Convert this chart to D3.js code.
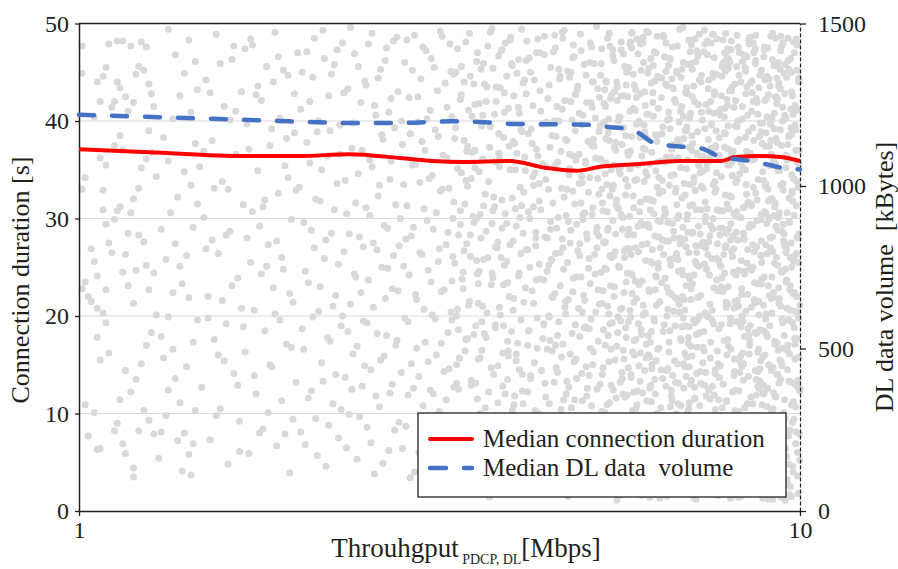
<!DOCTYPE html>
<html lang="en">
<head>
<meta charset="UTF-8">
<title>Connection duration vs throughput</title>
<script src="https://d3js.org/d3.v7.min.js"></script>
<style>
  body { margin: 0; background: #fff; }
  text { font-family: "Liberation Serif", "Times New Roman", serif; fill: #231f20; }
</style>
</head>
<body>
<div id="chart"></div>
<script>
// ---- data ----
var xTicks = [1, 10];
var yLeftTicks = [0, 10, 20, 30, 40, 50];
var yRightTicks = [0, 500, 1000, 1500];

// median connection duration [s] vs throughput [Mbps]
var medDurX = [1.00, 1.25, 1.70, 2.02, 2.37, 2.79, 3.09, 3.41, 3.96, 4.43, 4.90, 5.28, 5.99, 6.81, 7.76, 8.13, 8.80, 9.40, 10.0];
var medDurY = [37.1, 36.8, 36.4, 36.4, 36.6, 36.2, 35.9, 35.8, 35.9, 35.2, 34.9, 35.3, 35.6, 35.9, 35.9, 36.3, 36.4, 36.3, 35.9];

// median DL data volume [kBytes] vs throughput [Mbps]
var medVolX = [1.00, 1.47, 1.96, 2.37, 2.79, 3.27, 3.66, 3.96, 4.50, 5.11, 5.45, 5.68, 5.96, 6.25, 6.56, 6.93, 7.31, 7.70, 8.07, 8.53, 8.94, 9.44, 10.0];
var medVolY = [1219, 1208, 1199, 1194, 1194, 1199, 1196, 1191, 1190, 1188, 1181, 1178, 1164, 1134, 1125, 1120, 1115, 1092, 1084, 1077, 1068, 1056, 1051];

// individual connections [throughput Mbps, duration s]
var scatterA = [[1.01,47.7],[1.01,44.9],[1.02,34.2],[1.01,33.0],[1.01,22.8],[1.02,23.5],[1.03,22.0],[1.04,21.5],[1.04,26.9],[1.05,25.6],[1.06,24.1],[1.06,17.8],[1.07,15.5],[1.02,10.9],[1.03,7.7],[1.06,6.3],[1.07,6.4],[1.05,10.1],[1.06,20.8],[1.08,20.3],[1.09,19.3],[1.10,16.2],[1.09,22.7],[1.10,27.5],[1.12,29.9],[1.13,30.8],[1.14,31.2],[1.11,26.5],[1.08,30.9],[1.09,29.4],[1.07,36.2],[1.08,32.9],[1.09,35.5],[1.12,37.5],[1.14,38.5],[1.15,37.0],[1.11,41.4],[1.10,47.9],[1.13,48.2],[1.15,48.2],[1.09,45.5],[1.08,44.6],[1.07,42.0],[1.05,40.4],[1.06,44.0],[1.13,44.0],[1.14,43.4],[1.16,42.5],[1.12,42.0],[1.17,41.0],[1.19,41.9],[1.20,44.8],[1.21,45.6],[1.18,47.7],[1.22,48.1],[1.24,47.6],[1.23,45.2],[1.25,43.8],[1.26,42.8],[1.27,41.5],[1.25,39.0],[1.24,36.1],[1.26,36.8],[1.28,34.3],[1.22,35.2],[1.21,33.1],[1.19,32.0],[1.18,30.6],[1.17,28.5],[1.16,26.3],[1.15,24.5],[1.17,23.1],[1.19,21.3],[1.20,24.7],[1.21,28.3],[1.23,27.6],[1.24,25.2],[1.25,22.7],[1.27,24.4],[1.28,20.1],[1.26,18.3],[1.24,17.0],[1.22,15.1],[1.20,13.5],[1.18,12.2],[1.16,14.4],[1.14,11.4],[1.13,9.0],[1.12,8.2],[1.15,6.9],[1.16,5.9],[1.19,4.4],[1.19,3.5],[1.21,8.2],[1.23,10.3],[1.25,9.3],[1.27,7.9],[1.29,5.4],[1.30,8.1],[1.32,9.8],[1.33,12.4],[1.31,15.7],[1.30,17.9],[1.33,19.9],[1.35,16.6],[1.36,13.6],[1.38,11.1],[1.40,8.0],[1.42,5.8],[1.37,7.2],[1.39,4.1],[1.43,3.7],[1.44,6.9],[1.45,10.3],[1.41,14.8],[1.44,17.3],[1.46,19.6],[1.42,21.9],[1.39,23.3],[1.35,22.4],[1.32,25.8],[1.30,28.9],[1.34,30.6],[1.36,27.4],[1.38,25.1],[1.41,26.2],[1.44,29.1],[1.46,31.5],[1.43,33.4],[1.40,34.8],[1.37,32.2],[1.33,35.9],[1.31,38.3],[1.35,40.2],[1.38,42.6],[1.40,44.9],[1.36,46.8],[1.33,49.4],[1.42,48.3],[1.45,46.1],[1.46,43.2],[1.43,40.9],[1.45,37.7],[1.47,35.3]];

var scatterB = [[1.48,12.7],[1.49,30.1],[1.50,44.2],[1.51,22.0],[1.52,7.3],[1.53,38.0],[1.54,17.6],[1.55,48.9],[1.56,26.4],[1.57,10.5],[1.58,33.8],[1.59,41.5],[1.60,19.2],[1.61,4.8],[1.62,28.7],[1.63,46.3],[1.64,14.1],[1.65,36.6],[1.66,23.9],[1.67,9.2],[1.68,43.0],[1.69,31.4],[1.70,16.3],[1.71,39.7],[1.72,5.9],[1.73,25.5],[1.74,47.8],[1.75,20.6],[1.76,12.0],[1.77,34.9],[1.78,29.2],[1.79,42.1],[1.80,8.4],[1.81,18.5],[1.82,45.6],[1.83,27.3],[1.84,37.5],[1.85,14.8],[1.86,22.9],[1.87,49.1],[1.88,6.7],[1.89,32.6],[1.90,40.3],[1.91,11.3],[1.92,24.8],[1.93,35.4],[1.94,17.1],[1.95,44.7],[1.96,3.9],[1.97,29.9],[1.98,21.4],[1.99,38.8],[2.00,13.2],[2.01,47.0],[1.49,36.9],[1.51,19.8],[1.53,27.8],[1.55,9.8],[1.57,45.9],[1.59,15.4],[1.61,33.0],[1.63,23.1],[1.65,41.0],[1.67,6.1],[1.69,18.9],[1.71,28.0],[1.73,48.4],[1.75,13.9],[1.77,43.6],[1.79,24.3],[1.81,31.9],[1.83,10.1],[1.85,39.2],[1.87,20.2],[1.89,46.6],[1.91,26.0],[1.93,7.9],[1.95,34.2],[1.97,16.8],[1.99,42.8],[1.50,26.9],[1.54,33.1],[1.58,21.6],[1.62,40.1],[1.66,12.9],[1.70,47.4],[1.74,30.7],[1.78,8.0],[1.82,25.1],[1.86,44.0],[1.90,19.6],[1.94,38.2],[1.98,9.4],[1.52,42.9],[1.56,16.0],[1.60,28.3],[1.64,47.7],[1.68,20.8],[1.72,37.1],[1.76,42.7],[1.80,31.2],[1.84,15.0],[1.88,27.7],[1.92,45.2],[1.96,22.3],[2.00,32.9]];

var scatterC = [[2.03,41.2],[2.04,18.7],[2.05,29.6],[2.06,6.8],[2.07,47.1],[2.08,23.4],[2.09,35.7],[2.10,12.3],[2.11,44.5],[2.12,27.0],[2.13,9.5],[2.14,38.9],[2.15,20.5],[2.16,31.8],[2.17,15.2],[2.18,49.3],[2.19,25.9],[2.20,4.6],[2.21,36.4],[2.22,42.6],[2.23,17.4],[2.24,28.5],[2.25,11.0],[2.26,45.8],[2.27,22.1],[2.28,33.6],[2.29,7.5],[2.30,39.6],[2.31,19.0],[2.32,48.0],[2.33,26.6],[2.34,13.7],[2.35,30.5],[2.36,43.3],[2.37,9.9],[2.38,21.2],[2.39,37.2],[2.40,16.1],[2.41,46.9],[2.42,24.0],[2.43,5.3],[2.44,34.6],[2.45,28.1],[2.46,41.9],[2.47,12.8],[2.48,19.5],[2.49,44.1],[2.50,31.1],[2.51,8.6],[2.52,23.7],[2.53,36.0],[2.54,14.5],[2.55,49.0],[2.56,27.5],[2.57,3.8],[2.58,40.6],[2.59,18.2],[2.60,32.3],[2.61,10.7],[2.62,45.3],[2.63,25.0],[2.64,38.1],[2.65,15.9],[2.66,21.8],[2.67,47.5],[2.68,29.0],[2.69,6.2],[2.70,34.0],[2.71,42.3],[2.72,13.0],[2.73,26.2],[2.74,39.3],[2.75,17.0],[2.76,48.6],[2.77,22.6],[2.78,9.1],[2.79,30.0],
  [2.02,33.2],[2.03,8.1],[2.04,45.0],[2.05,16.6],[2.06,24.6],[2.07,37.8],[2.08,11.6],[2.09,42.0],[2.10,28.8],[2.11,19.9],[2.12,48.5],[2.13,32.0],[2.14,5.7],[2.15,40.0],[2.16,23.0],[2.17,35.0],[2.18,13.3],[2.19,46.4],[2.20,27.8],[2.21,17.8],[2.22,8.8],[2.23,39.0],[2.24,44.8],[2.25,21.0],[2.26,30.9],[2.27,14.0],[2.28,47.3],[2.29,25.3],[2.30,36.6],[2.31,10.4],[2.32,20.0],[2.33,42.9],[2.34,33.9],[2.35,6.5],[2.36,18.4],[2.37,28.4],[2.38,49.6],[2.39,12.5],[2.40,39.8],[2.41,24.3],[2.42,31.6],[2.43,16.9],[2.44,45.6],[2.45,9.7],[2.46,22.4],[2.47,37.0],[2.48,27.1],[2.49,14.9],[2.50,43.7],[2.51,19.3],[2.52,47.9],[2.53,30.3],[2.54,7.0],[2.55,35.3],[2.56,20.9],[2.57,41.6],[2.58,11.8],[2.59,26.8],[2.60,44.4],[2.61,33.4],[2.62,15.5],[2.63,38.6],[2.64,4.9],[2.65,29.3],[2.66,46.2],[2.67,18.0],[2.68,24.9],[2.69,40.9],[2.70,12.1],[2.71,35.9],[2.72,22.8],[2.73,48.2],[2.74,8.3],[2.75,31.4],[2.76,17.5],[2.77,43.0],[2.78,27.2]];

var scatterD = [[2.80,14.2],[2.81,37.6],[2.82,25.1],[2.83,46.0],[2.84,8.7],[2.85,31.3],[2.86,19.4],[2.87,42.4],[2.88,3.4],[2.89,28.2],[2.90,35.5],[2.91,12.6],[2.92,48.8],[2.93,22.2],[2.94,16.7],[2.95,39.9],[2.96,6.0],[2.97,33.7],[2.98,44.3],[2.99,26.3],[3.00,10.8],[3.01,20.7],[3.02,37.0],[3.03,47.2],[3.04,29.8],[3.05,15.3],[3.06,5.1],[3.07,41.1],[3.08,23.5],[3.09,34.4],[3.10,12.0],[3.11,45.5],[3.12,19.7],[3.13,30.6],[3.14,8.0],[3.15,38.4],[3.16,26.9],[3.17,49.2],[3.18,17.2],[3.19,33.0],[3.20,4.2],[3.21,22.7],[3.22,43.9],[3.23,11.4],[3.24,36.2],[3.25,28.6],[3.26,14.6],[3.27,47.9],[3.28,20.4],[3.29,40.4],[3.30,7.1],[3.31,31.7],[3.32,25.4],[3.33,45.0],[3.34,13.1],[3.35,35.1],[3.36,18.6],[3.37,2.9],[3.38,29.4],[3.39,42.7],[3.40,23.8],[3.41,9.6],[3.42,38.0],[3.43,16.4],[3.44,48.1],[3.45,27.4],[3.46,33.3],[3.47,6.9],[3.48,21.5],[3.49,44.6],[3.50,12.9],[3.51,36.8],[3.52,30.2],[3.53,18.1],[3.54,41.7],[3.55,4.5],[3.56,25.7],[3.57,47.0],[3.58,15.6],[3.59,34.8],[3.60,10.0],[3.61,28.0],[3.62,39.5],[3.63,21.0],[3.64,45.9],[3.65,7.6],[3.66,32.5],[3.67,17.8],[3.68,43.5],[3.69,26.0],[3.70,12.2],[3.71,37.3],[3.72,3.2],[3.73,23.2],[3.74,49.5],[3.75,30.8],[3.76,14.0],[3.77,40.7],[3.78,19.1],[3.79,35.8],[3.80,8.5],[3.81,27.6],[3.82,46.7],
  [2.80,40.0],[2.81,6.4],[2.82,33.5],[2.83,19.8],[2.84,27.9],[2.85,48.3],[2.86,11.9],[2.87,24.2],[2.88,38.7],[2.89,15.1],[2.90,45.2],[2.91,29.1],[2.92,4.0],[2.93,35.6],[2.94,21.7],[2.95,42.5],[2.96,13.8],[2.97,26.5],[2.98,9.0],[2.99,37.9],[3.00,47.6],[3.01,31.0],[3.02,17.3],[3.03,5.5],[3.04,40.2],[3.05,24.7],[3.06,34.1],[3.07,12.4],[3.08,46.4],[3.09,20.1],[3.10,28.9],[3.11,7.8],[3.12,39.1],[3.13,16.0],[3.14,43.1],[3.15,25.6],[3.16,10.2],[3.17,32.8],[3.18,22.5],[3.19,48.7],[3.20,36.5],[3.21,14.3],[3.22,3.6],[3.23,27.3],[3.24,41.4],[3.25,18.3],[3.26,33.1],[3.27,8.9],[3.28,45.1],[3.29,23.6],[3.30,30.0],[3.31,12.7],[3.32,38.2],[3.33,5.8],[3.34,20.0],[3.35,47.4],[3.36,28.3],[3.37,15.7],[3.38,42.2],[3.39,34.7],[3.40,9.3],[3.41,24.5],[3.42,44.0],[3.43,31.5],[3.44,17.6],[3.45,2.6],[3.46,37.4],[3.47,21.1],[3.48,49.0],[3.49,26.1],[3.50,13.4],[3.51,40.5],[3.52,7.2],[3.53,29.6],[3.54,35.2],[3.55,19.0],[3.56,46.1],[3.57,11.5],[3.58,23.3],[3.59,41.8],[3.60,30.4],[3.61,4.3],[3.62,16.5],[3.63,36.1],[3.64,25.8],[3.65,43.8],[3.66,10.6],[3.67,28.7],[3.68,20.3],[3.69,47.7],[3.70,33.8],[3.71,6.6],[3.72,39.4],[3.73,14.7],[3.74,24.4],[3.75,45.4],[3.76,1.9],[3.77,31.2],[3.78,18.8],[3.79,42.0],[3.80,27.0],[3.81,11.1],[3.82,36.7]];

var scatterE = [[3.83,20.9],[3.84,43.4],[3.85,9.4],[3.86,31.9],[3.87,16.2],[3.88,38.3],[3.89,25.2],[3.90,48.0],[3.91,5.0],[3.92,29.5],[3.93,13.5],[3.94,41.3],[3.95,22.0],[3.96,35.0],[3.97,1.8],[3.98,18.4],[3.99,45.7],[4.00,27.7],[4.01,10.9],[4.02,37.7],[4.03,31.0],[4.04,15.4],[4.05,44.9],[4.06,6.3],[4.07,24.1],[4.08,40.8],[4.09,33.2],[4.10,19.6],[4.11,49.4],[4.12,12.3],[4.13,28.5],[4.14,3.0],[4.15,36.3],[4.16,22.9],[4.17,42.8],[4.18,8.2],[4.19,17.0],[4.20,30.7],[4.21,46.5],[4.22,25.0],[4.23,13.9],[4.24,39.2],[4.25,4.7],[4.26,34.3],[4.27,21.3],[4.28,44.2],[4.29,10.3],[4.30,27.2],[4.31,37.1],[4.32,16.7],[4.33,48.4],[4.34,7.4],[4.35,31.8],[4.36,23.8],[4.37,41.0],[4.38,14.4],[4.39,2.2],[4.40,35.6],[4.41,19.2],[4.42,46.8],[4.43,28.1],[4.44,11.7],[4.45,39.9],[4.46,24.6],[4.47,5.6],[4.48,33.0],[4.49,43.7],[4.50,17.5],[4.51,29.7],[4.52,9.1],[4.53,38.5],[4.54,21.9],[4.55,47.1],[4.56,13.2],[4.57,35.4],[4.58,26.4],[4.59,3.3],[4.60,41.5],[4.61,18.0],[4.62,30.1],[4.63,45.3],[4.64,8.8],[4.65,23.1],[4.66,36.9],[4.67,15.8],[4.68,49.1],[4.69,27.0],[4.70,6.8],[4.71,32.2],[4.72,42.1],[4.73,20.2],[4.74,12.0],[4.75,38.0],[4.76,25.5],[4.77,1.5],[4.78,34.5],[4.79,44.5],[4.80,16.1],[4.81,28.8],[4.82,10.6],[4.83,40.1],[4.84,22.5],[4.85,47.8],[4.86,4.4],[4.87,31.5],[4.88,19.1],[4.89,36.0],[4.90,13.6],[4.91,43.2],[4.92,26.7],[4.93,7.9],[4.94,33.6],[4.95,17.9],[4.96,48.9],[4.97,24.0],[4.98,39.6],[4.99,11.3],[5.00,29.9],[5.01,2.5],[5.02,45.8],[5.03,21.6],[5.04,35.7],[5.05,14.8],[5.06,41.9],[5.07,27.9],[5.08,6.1],[5.09,32.7],[5.10,18.7],[5.11,46.0],[5.12,23.3],[5.13,9.8],[5.14,37.5],[5.15,30.4],[5.16,15.0],[5.17,44.0],[5.18,3.9],[5.19,26.3],[5.20,40.3],[5.21,20.4],[5.22,49.7],[5.23,12.5],[5.24,34.1],[5.25,8.3],[5.26,28.2],[5.27,42.4],
  [3.83,35.3],[3.84,3.5],[3.85,26.0],[3.86,47.3],[3.87,12.8],[3.88,19.0],[3.89,40.9],[3.90,30.5],[3.91,8.0],[3.92,44.6],[3.93,23.4],[3.94,15.9],[3.95,37.4],[3.96,27.3],[3.97,48.6],[3.98,6.7],[3.99,32.1],[4.00,20.6],[4.01,42.6],[4.02,11.8],[4.03,2.4],[4.04,29.2],[4.05,36.7],[4.06,17.2],[4.07,46.3],[4.08,24.4],[4.09,9.7],[4.10,39.1],[4.11,31.3],[4.12,14.0],[4.13,43.9],[4.14,21.4],[4.15,5.2],[4.16,34.9],[4.17,26.8],[4.18,48.2],[4.19,12.2],[4.20,38.7],[4.21,18.5],[4.22,30.0],[4.23,45.0],[4.24,7.7],[4.25,22.6],[4.26,41.6],[4.27,33.4],[4.28,15.2],[4.29,1.9],[4.30,28.6],[4.31,47.0],[4.32,19.8],[4.33,36.4],[4.34,10.0],[4.35,25.3],[4.36,43.1],[4.37,30.9],[4.38,6.0],[4.39,39.7],[4.40,17.7],[4.41,23.7],[4.42,48.7],[4.43,13.1],[4.44,34.0],[4.45,4.1],[4.46,28.0],[4.47,42.3],[4.48,20.0],[4.49,11.0],[4.50,37.3],[4.51,45.5],[4.52,25.7],[4.53,16.4],[4.54,31.6],[4.55,8.5],[4.56,40.0],[4.57,22.3],[4.58,47.5],[4.59,14.7],[4.60,29.0],[4.61,35.8],[4.62,3.1],[4.63,19.4],[4.64,44.3],[4.65,26.5],[4.66,10.4],[4.67,33.1],[4.68,41.2],[4.69,17.1],[4.70,24.8],[4.71,49.3],[4.72,6.5],[4.73,38.1],[4.74,30.3],[4.75,13.3],[4.76,45.1],[4.77,21.7],[4.78,9.0],[4.79,35.1],[4.80,27.5],[4.81,42.0],[4.82,2.8],[4.83,18.2],[4.84,32.8],[4.85,23.9],[4.86,46.6],[4.87,11.4],[4.88,39.0],[4.89,15.6],[4.90,29.4],[4.91,5.4],[4.92,43.6],[4.93,20.8],[4.94,36.6],[4.95,26.2],[4.96,9.3],[4.97,47.2],[4.98,14.1],[4.99,33.7],[5.00,40.6],[5.01,22.1],[5.02,7.3],[5.03,30.6],[5.04,18.9],[5.05,44.7],[5.06,28.4],[5.07,12.6],[5.08,37.9],[5.09,4.8],[5.10,25.9],[5.11,34.2],[5.12,48.0],[5.13,19.7],[5.14,10.8],[5.15,41.4],[5.16,31.1],[5.17,16.3],[5.18,45.9],[5.19,8.6],[5.20,24.3],[5.21,36.2],[5.22,2.0],[5.23,29.1],[5.24,43.3],[5.25,17.4],[5.26,38.9],[5.27,21.2]];

var scatterF = [[5.28,13.0],[5.29,36.1],[5.30,24.5],[5.31,47.4],[5.32,5.9],[5.33,30.8],[5.34,18.6],[5.35,41.8],[5.36,10.1],[5.37,27.6],[5.38,44.1],[5.39,2.7],[5.40,33.5],[5.41,21.0],[5.42,38.8],[5.43,15.3],[5.44,49.0],[5.45,26.2],[5.46,8.4],[5.47,35.0],[5.48,42.7],[5.49,19.3],[5.50,29.8],[5.51,12.4],[5.52,46.2],[5.53,23.0],[5.54,4.3],[5.55,37.8],[5.56,31.4],[5.57,16.9],[5.58,43.5],[5.59,9.6],[5.60,25.1],[5.61,40.4],[5.62,1.6],[5.63,34.6],[5.64,20.7],[5.65,48.1],[5.66,14.2],[5.67,28.9],[5.68,6.9],[5.69,39.3],[5.70,22.4],[5.71,45.6],[5.72,11.7],[5.73,32.4],[5.74,17.8],[5.75,26.9],[5.76,3.7],[5.77,42.5],[5.78,36.5],[5.79,9.2],[5.80,30.2],[5.81,47.9],[5.82,19.9],[5.83,13.7],[5.84,38.4],[5.85,24.2],[5.86,5.3],[5.87,44.8],[5.88,28.3],[5.89,16.0],[5.90,33.9],[5.91,41.1],[5.92,10.5],[5.93,21.8],[5.94,48.4],[5.95,2.3],[5.96,35.5],[5.97,26.6],[5.98,14.9],[5.99,39.8],[6.00,7.5],[6.01,31.7],[6.02,45.2],[6.03,18.1],[6.04,23.6],[6.05,12.1],[6.06,37.2],[6.07,29.3],[6.08,4.9],[6.09,43.0],[6.10,20.3],[6.11,34.8],[6.12,15.7],[6.13,49.2],[6.14,27.4],[6.15,8.1],[6.16,40.7],[6.17,22.7],[6.18,32.0],[6.19,1.4],[6.20,17.3],[6.21,46.4],[6.22,11.2],[6.23,36.8],[6.24,25.4],[6.25,42.9],[6.26,6.4],[6.27,30.5],[6.28,19.5],[6.29,13.5],[6.30,38.6],[6.31,47.0],[6.32,24.0],[6.33,3.2],[6.34,33.2],[6.35,16.6],[6.36,41.3],[6.37,28.1],[6.38,9.9],[6.39,21.5],[6.40,44.4],[6.41,35.9],[6.42,14.5],[6.43,2.1],[6.44,27.8],[6.45,39.4],[6.46,18.4],[6.47,48.6],[6.48,7.0],[6.49,31.0],[6.50,23.9],[6.51,43.8],[6.52,12.8],[6.53,36.3],[6.54,20.0],[6.55,5.7],[6.56,29.6],[6.57,45.7],[6.58,16.3],[6.59,40.2],[6.60,25.8],[6.61,10.7],[6.62,34.4],[6.63,1.9],[6.64,22.2],[6.65,47.6],[6.66,13.9],[6.67,37.6],[6.68,28.7],[6.69,8.7],[6.70,42.2],[6.71,19.0],[6.72,32.7],[6.73,4.6],[6.74,26.4],[6.75,44.9],[6.76,15.1],[6.77,38.1],[6.78,11.0],[6.79,30.3],[6.80,21.2],[6.81,49.4],[6.82,6.1],[6.83,35.2],[6.84,17.5],[6.85,41.5],[6.86,24.7],[6.87,2.9],[6.88,29.1],[6.89,46.0],[6.90,12.6],[6.91,33.6],[6.92,20.6],[6.93,39.0],[6.94,7.8],[6.95,27.1],[6.96,43.4],[6.97,15.8],[6.98,36.0],[6.99,10.2],[7.00,24.1],[7.01,48.3],[7.02,18.9],[7.03,31.3],[7.04,4.0],[7.05,40.8],[7.06,22.8],[7.07,13.4],[7.08,37.0],[7.09,45.3],[7.10,28.6],[7.11,6.6],[7.12,19.6],[7.13,34.2],[7.14,42.0],[7.15,11.6],[7.16,25.6],[7.17,1.2],[7.18,30.9],[7.19,47.2],[7.20,16.8],[7.21,38.9],[7.22,21.9],[7.23,9.4],[7.24,35.4],[7.25,44.2],[7.26,27.2],[7.27,14.3],
  [5.28,39.5],[5.29,8.2],[5.30,45.9],[5.31,21.3],[5.32,31.6],[5.33,14.7],[5.34,2.0],[5.35,27.5],[5.36,43.2],[5.37,17.0],[5.38,35.7],[5.39,24.8],[5.40,10.9],[5.41,48.5],[5.42,29.0],[5.43,5.4],[5.44,38.0],[5.45,19.2],[5.46,42.3],[5.47,12.9],[5.48,26.0],[5.49,33.0],[5.50,46.7],[5.51,3.8],[5.52,22.0],[5.53,37.3],[5.54,15.5],[5.55,28.4],[5.56,9.0],[5.57,44.0],[5.58,31.2],[5.59,18.3],[5.60,40.0],[5.61,6.2],[5.62,25.0],[5.63,13.2],[5.64,35.3],[5.65,47.3],[5.66,20.8],[5.67,1.7],[5.68,30.1],[5.69,16.5],[5.70,42.6],[5.71,26.7],[5.72,8.8],[5.73,38.5],[5.74,23.5],[5.75,45.0],[5.76,11.9],[5.77,33.3],[5.78,19.4],[5.79,28.9],[5.80,4.7],[5.81,41.0],[5.82,36.9],[5.83,14.0],[5.84,24.3],[5.85,49.1],[5.86,10.3],[5.87,32.3],[5.88,21.4],[5.89,43.7],[5.90,7.2],[5.91,27.0],[5.92,17.6],[5.93,39.7],[5.94,34.0],[5.95,12.3],[5.96,46.9],[5.97,3.0],[5.98,23.2],[5.99,30.7],[6.00,42.8],[6.01,16.2],[6.02,9.5],[6.03,36.4],[6.04,27.3],[6.05,48.0],[6.06,20.1],[6.07,5.0],[6.08,33.8],[6.09,14.4],[6.10,41.6],[6.11,25.7],[6.12,38.3],[6.13,11.3],[6.14,2.5],[6.15,29.4],[6.16,18.0],[6.17,45.4],[6.18,22.5],[6.19,35.6],[6.20,8.0],[6.21,31.9],[6.22,43.9],[6.23,15.0],[6.24,26.8],[6.25,4.4],[6.26,40.5],[6.27,19.7],[6.28,47.1],[6.29,28.2],[6.30,12.0],[6.31,34.9],[6.32,21.1],[6.33,37.9],[6.34,6.8],[6.35,44.6],[6.36,24.9],[6.37,16.7],[6.38,32.6],[6.39,1.3],[6.40,29.7],[6.41,10.6],[6.42,42.4],[6.43,23.4],[6.44,38.7],[6.45,13.6],[6.46,48.8],[6.47,26.3],[6.48,19.1],[6.49,5.5],[6.50,35.8],[6.51,30.6],[6.52,45.1],[6.53,9.1],[6.54,22.9],[6.55,40.1],[6.56,14.6],[6.57,27.7],[6.58,3.4],[6.59,33.4],[6.60,18.5],[6.61,46.3],[6.62,25.2],[6.63,11.8],[6.64,37.1],[6.65,29.5],[6.66,7.1],[6.67,43.3],[6.68,20.5],[6.69,34.5],[6.70,15.4],[6.71,2.6],[6.72,41.9],[6.73,26.1],[6.74,10.0],[6.75,31.4],[6.76,47.7],[6.77,21.6],[6.78,36.2],[6.79,13.1],[6.80,39.9],[6.81,5.8],[6.82,28.0],[6.83,17.7],[6.84,44.5],[6.85,24.6],[6.86,32.1],[6.87,9.7],[6.88,49.6],[6.89,19.8],[6.90,38.2],[6.91,4.2],[6.92,27.9],[6.93,14.8],[6.94,42.9],[6.95,23.1],[6.96,35.1],[6.97,1.8],[6.98,30.4],[6.99,45.8],[7.00,17.2],[7.01,26.5],[7.02,11.1],[7.03,40.3],[7.04,33.5],[7.05,6.3],[7.06,21.7],[7.07,47.8],[7.08,15.9],[7.09,28.5],[7.10,37.7],[7.11,3.6],[7.12,43.6],[7.13,24.2],[7.14,12.7],[7.15,32.9],[7.16,19.3],[7.17,46.1],[7.18,8.6],[7.19,25.3],[7.20,36.6],[7.21,2.2],[7.22,41.7],[7.23,29.2],[7.24,18.2],[7.25,48.9],[7.26,10.8],[7.27,34.7]];

var scatterG = [[7.28,22.1],[7.30,44.7],[7.32,8.9],[7.34,33.1],[7.36,16.4],[7.38,39.2],[7.40,27.0],[7.42,3.3],[7.44,48.2],[7.46,19.9],[7.48,35.9],[7.50,11.5],[7.52,42.0],[7.54,25.9],[7.56,6.0],[7.58,30.0],[7.60,46.5],[7.62,14.1],[7.64,37.5],[7.66,23.7],[7.68,1.6],[7.70,40.9],[7.72,18.7],[7.74,28.3],[7.76,9.8],[7.78,34.3],[7.80,45.6],[7.82,13.0],[7.84,26.3],[7.86,38.8],[7.88,4.8],[7.90,21.4],[7.92,31.5],[7.94,47.4],[7.96,16.9],[7.98,43.1],[8.00,7.6],[8.02,29.5],[8.04,36.7],[8.06,12.2],[8.08,24.5],[8.10,41.4],[8.12,2.4],[8.14,33.7],[8.16,19.4],[8.18,48.8],[8.20,27.8],[8.22,10.2],[8.24,38.1],[8.26,15.3],[8.28,44.0],[8.30,22.8],[8.32,5.1],[8.34,31.1],[8.36,46.8],[8.38,17.9],[8.40,35.0],[8.42,8.3],[8.44,25.4],[8.46,40.6],[8.48,13.8],[8.50,29.1],[8.52,1.9],[8.54,43.9],[8.56,20.9],[8.58,36.0],[8.60,11.0],[8.62,48.0],[8.64,26.6],[8.66,6.7],[8.68,32.6],[8.70,18.2],[8.72,41.9],[8.74,23.3],[8.76,3.9],[8.78,38.4],[8.80,14.6],[8.82,29.9],[8.84,45.2],[8.86,9.4],[8.88,34.8],[8.90,21.1],[8.92,47.3],[8.94,16.0],[8.96,27.3],[8.98,2.8],[9.00,40.4],[9.02,12.6],[9.04,31.8],[9.06,44.3],[9.08,19.0],[9.10,6.4],[9.12,36.6],[9.14,24.0],[9.16,49.0],[9.18,10.5],[9.20,30.3],[9.22,17.4],[9.24,42.5],[9.26,4.5],[9.28,26.0],[9.30,37.8],[9.32,14.0],[9.34,46.0],[9.36,21.8],[9.38,8.0],[9.40,33.4],[9.42,1.4],[9.44,28.7],[9.46,40.0],[9.48,16.7],[9.50,44.9],[9.52,11.4],[9.54,24.8],[9.56,35.2],[9.58,5.6],[9.60,30.6],[9.62,48.5],[9.64,19.6],[9.66,13.3],[9.68,38.6],[9.70,2.5],[9.72,27.5],[9.74,43.0],[9.76,9.1],[9.78,22.3],[9.80,34.1],[9.82,47.0],[9.84,15.6],[9.86,6.9],[9.88,31.3],[9.90,41.1],[9.92,20.4],[9.94,1.8],[9.96,25.5],[9.98,37.0],[10.00,12.5],
  [7.29,36.3],[7.31,3.1],[7.33,27.6],[7.35,47.1],[7.37,12.9],[7.39,20.3],[7.41,41.7],[7.43,31.0],[7.45,7.2],[7.47,44.2],[7.49,24.2],[7.51,15.7],[7.53,37.2],[7.55,2.0],[7.57,28.9],[7.59,19.2],[7.61,42.7],[7.63,10.4],[7.65,33.0],[7.67,48.4],[7.69,22.6],[7.71,6.2],[7.73,38.3],[7.75,14.9],[7.77,25.1],[7.79,44.6],[7.81,30.8],[7.83,4.1],[7.85,17.5],[7.87,41.3],[7.89,27.2],[7.91,11.2],[7.93,35.5],[7.95,23.0],[7.97,46.3],[7.99,2.9],[8.01,19.8],[8.03,32.2],[8.05,43.5],[8.07,8.5],[8.09,26.9],[8.11,14.3],[8.13,39.5],[8.15,5.3],[8.17,30.7],[8.19,21.6],[8.21,47.6],[8.23,12.3],[8.25,34.6],[8.27,1.5],[8.29,25.7],[8.31,40.2],[8.33,16.2],[8.35,28.5],[8.37,9.6],[8.39,45.5],[8.41,20.5],[8.43,36.9],[8.45,3.6],[8.47,31.7],[8.49,48.3],[8.51,17.0],[8.53,24.9],[8.55,11.7],[8.57,41.0],[8.59,29.3],[8.61,5.9],[8.63,38.0],[8.65,21.3],[8.67,45.9],[8.69,13.5],[8.71,27.1],[8.73,8.7],[8.75,34.0],[8.77,43.4],[8.79,18.6],[8.81,2.2],[8.83,30.4],[8.85,23.8],[8.87,39.8],[8.89,12.0],[8.91,46.6],[8.93,7.0],[8.95,33.3],[8.97,20.2],[8.99,42.3],[9.01,26.4],[9.03,4.3],[9.05,15.0],[9.07,37.4],[9.09,28.0],[9.11,48.7],[9.13,10.0],[9.15,32.0],[9.17,1.2],[9.19,22.4],[9.21,40.8],[9.23,17.1],[9.25,35.6],[9.27,7.9],[9.29,44.4],[9.31,25.2],[9.33,30.1],[9.35,13.1],[9.37,3.0],[9.39,39.1],[9.41,21.0],[9.43,47.7],[9.45,9.2],[9.47,33.6],[9.49,27.7],[9.51,18.0],[9.53,42.8],[9.55,6.5],[9.57,23.5],[9.59,36.4],[9.61,14.5],[9.63,2.7],[9.65,45.3],[9.67,29.6],[9.69,20.6],[9.71,39.3],[9.73,10.9],[9.75,32.8],[9.77,4.6],[9.79,48.1],[9.81,26.1],[9.83,17.7],[9.85,41.6],[9.87,8.1],[9.89,22.0],[9.91,35.8],[9.93,13.4],[9.95,44.1],[9.97,28.4],[9.99,5.2],
  [7.28,9.7],[7.30,30.9],[7.32,40.1],[7.34,2.3],[7.36,25.3],[7.38,47.9],[7.40,14.2],[7.42,35.1],[7.44,20.0],[7.46,43.3],[7.48,5.0],[7.50,28.2],[7.52,17.3],[7.54,39.7],[7.56,12.8],[7.58,48.9],[7.60,22.9],[7.62,33.8],[7.64,1.9],[7.66,44.8],[7.68,27.4],[7.70,15.1],[7.72,36.5],[7.74,7.4],[7.76,41.2],[7.78,19.1],[7.80,29.0],[7.82,45.9],[7.84,3.7],[7.86,24.4],[7.88,32.4],[7.90,11.3],[7.92,42.2],[7.94,21.2],[7.96,37.1],[7.98,6.6],[8.00,46.0],[8.02,16.6],[8.04,26.7],[8.06,34.4],[8.08,1.7],[8.10,20.8],[8.12,43.8],[8.14,12.4],[8.16,30.2],[8.18,39.4],[8.20,8.6],[8.22,24.7],[8.24,47.0],[8.26,2.6],[8.28,35.7],[8.30,14.8],[8.32,41.5],[8.34,19.5],[8.36,27.9],[8.38,10.6],[8.40,45.1],[8.42,33.5],[8.44,5.7],[8.46,22.2],[8.48,38.9],[8.50,16.1],[8.52,48.6],[8.54,29.4],[8.56,8.4],[8.58,42.9],[8.60,25.0],[8.62,3.4],[8.64,36.2],[8.66,18.3],[8.68,46.2],[8.70,11.9],[8.72,31.9],[8.74,40.7],[8.76,21.5],[8.78,7.3],[8.80,44.7],[8.82,15.4],[8.84,26.2],[8.86,37.7],[8.88,1.3],[8.90,33.9],[8.92,12.1],[8.94,42.1],[8.96,19.7],[8.98,30.5],[9.00,4.9],[9.02,47.5],[9.04,23.1],[9.06,9.0],[9.08,35.4],[9.10,27.0],[9.12,14.4],[9.14,40.3],[9.16,2.1],[9.18,21.9],[9.20,45.7],[9.22,31.2],[9.24,11.8],[9.26,38.2],[9.28,17.2],[9.30,6.8],[9.32,28.8],[9.34,43.6],[9.36,34.9],[9.38,15.5],[9.40,47.2],[9.42,24.6],[9.44,3.8],[9.46,19.3],[9.48,32.9],[9.50,10.1],[9.52,40.6],[9.54,1.1],[9.56,26.5],[9.58,44.5],[9.60,16.5],[9.62,37.6],[9.64,7.7],[9.66,29.7],[9.68,22.7],[9.70,46.4],[9.72,13.2],[9.74,34.5],[9.76,42.6],[9.78,4.0],[9.80,25.6],[9.82,18.8],[9.84,39.6],[9.86,10.7],[9.88,48.4],[9.90,28.1],[9.92,6.0],[9.94,33.2],[9.96,15.8],[9.98,44.0],[10.00,21.1]];

var scatterH = [[3.31,44.8],[3.58,21.3],[4.12,38.9],[3.77,9.1],[4.95,27.4],[3.44,33.9],[4.61,14.2],[5.14,47.6],[3.92,25.6],[4.38,5.4],[3.63,40.6],[5.02,18.8],[4.27,31.2],[3.36,12.5],[4.79,36.6],[3.85,47.2],[4.53,22.0],[5.21,7.8],[3.49,28.3],[4.04,16.1],[4.88,42.7],[3.70,3.7],[4.44,35.3],[5.09,24.9],[3.29,19.6],[3.98,45.9],[4.70,11.4],[3.54,37.0],[4.19,26.8],[5.26,32.5],[3.81,14.9],[4.57,48.8],[3.40,6.6],[4.99,20.4],[4.09,30.1],[3.67,42.0],[4.33,9.9],[5.17,38.1],[3.88,23.2],[4.66,2.9],[3.46,17.7],[4.84,46.5],[4.23,13.6],[3.74,29.5],[5.06,11.8],[3.33,39.3],[4.48,25.2],[3.95,4.6],[4.75,33.0],[3.60,15.7],[4.15,44.2],[5.23,27.0],[3.52,8.4],[4.41,19.1],[3.83,36.2],[4.92,5.9],[4.01,21.8],[3.38,30.8],[4.63,40.0],[5.12,16.7],[3.72,49.1],[4.29,34.7],[3.57,24.3],[4.82,10.6],[4.07,41.4],[3.43,2.3],[4.51,28.9],[5.04,35.9],[3.90,12.0],[4.36,47.0],[3.65,18.2],[4.97,31.6],[4.21,7.2],[3.30,26.1],[4.72,20.9],[3.79,43.5],[4.59,38.4],[5.19,3.3],[3.50,34.1],[4.13,11.0],[4.90,24.0],[3.86,29.0],[4.46,16.6],[3.61,45.3],[5.07,9.3],[4.25,37.7],[3.35,20.7],[4.68,27.9],[3.96,48.3],[4.40,6.1],[5.25,22.7],[3.76,32.2],[4.55,1.8],[3.47,41.1],[4.86,15.3],[4.03,35.0],[3.68,7.5],[4.31,23.7],[5.15,44.0],[3.93,17.4],[4.77,29.7],[3.55,13.1],[4.17,46.2],[5.00,30.4],[3.41,22.8],[4.64,4.1],[3.82,38.7],[4.49,19.9],[3.28,9.6],[4.94,40.8],[4.10,26.4],[3.71,1.4],[4.35,33.6],[5.10,13.9],[3.59,24.6],[4.81,45.0],[4.06,8.9],[3.45,36.9],[4.58,17.0],[5.22,28.6],[3.89,42.9],[4.26,3.9],[3.64,31.3],[4.73,21.5],[3.99,10.3],[4.42,39.8],[5.03,6.8],[3.34,15.0],[4.69,48.5],[3.78,27.1],[4.20,18.5],[3.53,43.8],[4.89,2.6],[4.14,32.7],[3.69,5.1],[4.52,25.8],[5.18,37.4],[3.84,20.1],[4.62,8.1],[3.39,45.6],[4.98,34.3],[4.08,14.5],[3.75,23.9],[4.37,3.0],[5.13,41.9],[3.56,30.0],[4.78,12.7],[4.00,37.9],[3.42,26.7],[4.65,44.6],[3.94,16.4],[4.30,28.0],[5.08,4.4],[3.62,19.4],[4.85,36.4]];

var scatterI = [[5.33,22.6],[6.41,7.9],[5.87,41.3],[6.92,16.2],[5.51,33.4],[7.14,3.5],[6.18,29.1],[5.69,46.9],[6.63,12.4],[7.02,37.3],[5.42,18.0],[6.29,44.1],[5.95,5.2],[6.77,25.8],[5.60,31.0],[7.21,19.6],[6.08,39.6],[5.31,10.2],[6.52,48.0],[6.99,28.6],[5.78,14.7],[6.35,35.8],[7.09,42.5],[5.48,2.5],[6.71,21.9],[6.12,17.1],[5.83,26.3],[6.86,45.3],[5.38,38.2],[7.25,9.6],[6.24,4.4],[5.65,30.4],[6.57,40.9],[7.05,13.0],[5.99,23.4],[5.45,47.7],[6.45,32.8],[6.94,6.8],[5.73,18.8],[6.16,49.1],[7.17,27.2],[5.56,11.6],[6.67,36.0],[6.03,1.6],[5.92,43.2],[6.81,20.4],[5.36,24.9],[7.12,33.7],[6.32,15.4],[5.63,40.4],[6.50,8.6],[6.97,29.9],[5.81,35.1],[5.29,44.7],[6.21,12.9],[6.75,3.1],[7.23,41.7],[5.54,26.6],[6.06,21.1],[6.59,46.4],[5.90,9.4],[7.00,17.8],[5.40,30.7],[6.38,38.6],[6.88,24.2],[5.75,5.9],[6.14,34.4],[7.19,14.1],[5.58,42.1],[6.69,28.0],[6.01,47.9],[5.47,16.6],[6.47,1.9],[6.96,39.0],[5.85,22.3],[6.26,31.8],[7.07,6.3],[5.67,13.6],[6.55,43.6],[5.34,27.6],[6.84,10.8],[6.10,37.1],[5.97,19.2],[7.15,48.4],[6.36,25.4],[5.62,4.8],[6.73,33.1],[5.43,40.2],[6.19,15.8],[7.03,23.8],[5.79,45.5],[6.61,8.2],[5.52,35.5],[6.90,2.8],[6.04,29.4],[7.26,20.0],[5.88,12.2],[6.43,44.4],[5.30,7.0],[6.79,38.0],[6.22,18.4],[5.71,26.0],[7.10,31.4],[5.50,47.3],[6.53,14.4],[6.98,42.8],[5.94,3.9],[6.30,22.7],[5.37,34.6],[6.65,11.3],[7.20,36.7],[5.76,24.4],[6.13,40.7],[6.85,6.0],[5.59,19.9],[6.48,30.2],[7.06,16.9],[5.84,49.0],[6.27,9.1],[5.41,28.8],[6.74,45.1],[6.00,13.3],[7.13,1.3],[5.66,37.6],[6.39,21.4],[6.93,32.4],[5.53,43.0],[6.17,5.6],[7.24,25.1],[5.89,17.5],[6.60,39.2],[5.32,14.0],[6.82,27.4],[6.07,46.0],[5.72,2.2],[6.44,33.9],[7.01,10.5],[5.46,23.1],[6.25,41.9],[5.96,29.2],[6.70,7.6],[7.18,18.1],[5.61,35.0],[6.34,48.7],[6.89,15.1],[5.80,26.9],[6.11,3.6],[5.39,44.0],[6.56,20.7],[7.08,38.5],[5.68,12.0],[6.20,30.9],[6.78,24.6],[5.93,42.4],[6.46,9.8],[5.49,5.0],[7.22,46.7],[6.02,18.6],[6.62,36.3],[5.77,28.3],[6.95,13.8],[5.35,39.9],[6.28,1.7],[6.87,22.0],[5.57,31.9],[7.11,8.7],[6.15,44.9],[5.86,16.3],[6.51,27.7],[7.04,47.1],[5.44,11.1],[6.37,34.2],[6.80,4.2],[5.98,40.0],[5.64,19.5],[6.68,25.9],[7.16,32.9],[6.23,14.6],[5.82,48.1],[6.42,6.5],[5.55,37.0],[6.91,21.7],[6.05,2.9],[7.27,28.4],[5.74,43.7],[6.58,17.3],[5.31,33.0],[6.33,10.0],[6.83,41.0],[5.91,23.6],[6.09,38.9],[7.00,5.3],[5.52,26.2],[6.49,46.6],[5.70,15.6],[6.76,30.0],[6.19,12.6],[7.22,35.7],[5.43,20.2],[6.64,44.3],[5.96,7.3],[6.31,24.1],[6.97,39.4],[5.60,4.6],[6.12,32.0],[6.86,18.9],[5.84,47.5],[6.40,27.0],[7.14,11.5],[5.37,41.5],[6.54,1.5],[6.02,29.6],[5.77,36.8],[6.72,13.2],[7.09,23.3],[5.49,9.3],[6.26,45.7],[6.93,19.0],[5.88,31.1],[6.44,3.4],[5.65,42.6],[7.19,26.5],[6.16,16.0],[6.80,37.8],[5.34,6.9],[6.58,22.4],[6.06,48.6],[5.73,34.0],[7.02,14.8],[6.35,29.8],[5.57,1.1],[6.89,40.5],[6.21,25.6],[5.94,10.9],[6.66,43.4],[7.25,18.3],[5.45,32.3],[6.47,7.1],[6.00,38.3],[5.81,20.6],[6.83,27.5],[7.07,45.9]];

var scatterJ = [[7.35,18.4],[8.62,33.2],[9.41,7.4],[7.88,45.1],[9.07,22.1],[8.14,2.7],[9.73,38.6],[7.52,29.3],[8.89,12.9],[9.96,44.4],[7.69,5.5],[8.37,24.6],[9.28,41.8],[7.43,35.7],[8.76,16.6],[9.58,26.9],[8.03,48.2],[9.15,10.4],[7.97,31.0],[8.51,3.8],[9.84,20.5],[7.61,43.0],[8.25,14.2],[9.36,30.6],[7.31,9.2],[8.95,37.4],[9.66,1.7],[7.79,23.9],[8.44,46.6],[9.01,17.9],[7.47,27.6],[9.49,40.1],[8.18,6.2],[9.90,33.8],[7.73,13.7],[8.70,42.3],[9.22,25.4],[7.56,48.9],[8.31,20.0],[9.79,11.2],[8.08,36.9],[9.12,4.5],[7.39,31.7],[8.82,26.2],[9.54,45.8],[7.92,16.0],[8.56,8.7],[9.33,34.9],[7.65,39.0],[8.21,1.4],[9.70,23.1],[7.29,44.0],[8.99,29.5],[9.44,14.9],[7.84,6.8],[8.40,38.3],[9.93,28.0],[7.50,21.2],[8.67,47.4],[9.19,12.1],[8.00,32.3],[9.61,3.2],[7.76,40.6],[8.47,18.7],[9.04,42.7],[7.41,11.8],[8.92,24.0],[9.87,37.0],[7.59,2.3],[8.28,30.1],[9.25,48.5],[8.11,15.6],[9.52,27.2],[7.95,45.4],[8.59,9.8],[9.76,19.3],[7.33,36.4],[8.79,5.1],[9.39,43.3],[7.71,25.7],[8.34,13.4],[9.10,32.0],[7.86,47.0],[8.64,21.7],[9.98,7.9],[7.54,39.6],[8.16,28.6],[9.30,17.2],[7.45,1.9],[9.63,46.2],[8.05,34.4],[8.86,10.9],[7.81,22.5],[9.46,41.4],[8.42,4.0],[9.82,30.3],[7.63,14.5],[8.97,38.8],[9.17,26.6],[7.37,49.3],[8.53,19.0],[9.68,8.3],[7.99,35.5],[8.23,44.7],[9.06,2.0],[7.74,29.0],[8.73,16.3],[9.56,40.3],[7.48,12.4],[8.38,24.3],[9.91,47.8],[8.09,6.5],[9.24,31.6],[7.90,20.9],[8.61,42.0],[9.42,15.3],[7.58,33.5],[8.29,3.5],[9.74,25.0],[7.30,40.9],[8.84,27.7],[9.13,10.1],[7.83,46.0],[8.49,18.0],[9.60,36.0],[8.01,1.3],[9.34,22.9],[7.67,30.9],[8.94,44.2],[9.85,13.0],[7.42,24.8],[8.19,37.9],[9.02,7.0],[7.94,17.6],[8.68,48.8],[9.50,28.4],[7.53,9.0],[8.33,35.2],[9.95,19.8],[7.78,42.6],[8.78,12.6],[9.20,39.2],[8.06,26.1],[9.65,4.8],[7.34,16.8],[8.57,31.3],[9.38,45.3],[7.70,6.0],[8.13,21.5],[9.80,34.1],[7.87,27.0],[8.91,2.6],[9.09,43.6],[7.46,38.1],[8.45,11.0],[9.57,23.5],[8.02,47.3],[8.72,29.8],[9.29,14.0],[7.62,32.7],[8.26,8.0],[9.71,41.2],[7.38,25.3],[8.98,18.2],[9.47,48.0],[7.91,3.1],[8.54,36.7],[9.14,20.3],[7.57,44.5],[8.35,15.1],[9.88,26.4],[7.80,10.6],[8.81,39.8],[9.32,5.8],[8.10,30.5],[9.62,17.0],[7.44,46.8],[8.65,23.4],[9.03,33.0],[7.72,1.6],[8.41,42.8],[9.99,12.3],[7.96,28.9],[8.87,8.5],[9.43,37.5],[7.55,19.6],[8.17,45.6],[9.77,31.8],[7.28,13.1],[8.60,27.3],[9.21,4.3],[7.85,40.4],[8.30,22.2],[9.53,9.5],[8.04,35.8],[8.93,47.6],[9.67,16.1],[7.66,25.9],[8.48,2.1],[9.11,38.0],[7.40,30.2],[8.75,14.3],[9.35,43.9],[7.98,6.7],[8.22,21.0],[9.86,39.1],[7.60,11.9],[8.96,33.6],[9.45,24.5],[7.82,48.3],[8.52,17.4],[9.05,1.2],[7.49,36.2],[8.36,27.9],[9.72,45.0],[8.12,10.3],[9.26,29.2],[7.93,41.6],[8.69,5.3],[9.59,20.8],[7.32,34.8],[8.27,15.9],[9.16,46.3],[7.77,23.0],[8.83,38.9],[9.92,3.6],[8.07,28.2],[8.58,44.1],[9.40,13.5],[7.64,9.9],[8.43,32.5],[9.69,26.0],[7.89,49.0],[8.90,18.5],[9.08,35.4],[7.51,4.9],[8.20,40.0],[9.83,22.4],[7.75,30.8],[8.74,12.8],[9.31,42.2],[8.00,19.2],[9.55,6.4],[7.36,27.1],[8.63,47.0],[9.18,14.7],[7.86,37.3],[8.39,1.8],[9.75,32.6],[7.58,44.9],[8.15,24.2],[9.00,10.7],[7.95,39.5],[8.77,20.1],[9.48,29.4],[7.68,16.4],[8.32,46.1],[9.97,35.6],[7.42,7.7],[8.85,25.5],[9.27,42.5],[8.10,13.9],[9.64,38.4],[7.79,3.0],[8.55,31.5],[9.13,21.8],[7.53,48.0],[8.24,9.1],[9.89,17.7],[7.90,28.5],[8.66,36.1],[9.37,4.7],[8.04,43.1],[9.58,23.7],[7.30,33.3],[8.88,15.8],[9.22,45.7],[7.71,11.4],[8.46,26.8],[9.78,40.7],[7.97,2.4],[8.18,34.0],[9.44,19.7],[7.47,41.0],[8.71,8.8],[9.07,30.0],[7.84,22.8],[8.50,47.9],[9.94,12.7],[7.62,37.2],[8.28,18.9],[9.51,27.5],[8.08,5.7],[8.99,44.6],[9.33,16.5],[7.39,29.7],[8.60,39.3],[9.81,9.4],[7.75,25.2],[8.35,3.3],[9.19,35.9],[7.92,46.5],[8.80,13.3],[9.66,32.1],[7.56,20.6],[8.14,42.1],[9.04,6.1],[7.88,38.7],[8.57,24.7],[9.41,48.7],[7.33,15.2],[8.93,30.7],[9.73,1.5],[8.01,27.8],[8.44,43.5],[9.26,11.7],[7.66,34.7],[8.21,19.4],[9.90,45.2],[7.81,8.2],[8.84,23.3],[9.10,39.7],[7.45,26.3],[8.67,14.4],[9.55,36.5],[8.06,4.2],[9.35,21.3],[7.93,47.2],[8.38,31.2],[9.84,17.1],[7.59,40.8],[8.76,7.4],[9.16,28.1]];

// ---- layout ----
var W = 898, H = 569;
var plot = {left: 79, right: 800, top: 23.5, bottom: 511};
var serif = "'Liberation Serif', 'Times New Roman', serif";

var svg = d3.select("#chart").append("svg")
    .attr("width", W).attr("height", H);

var x = d3.scaleLog().domain([1, 10]).range([plot.left, plot.right]);
var yL = d3.scaleLinear().domain([0, 50]).range([plot.bottom, plot.top]);
var yR = d3.scaleLinear().domain([0, 1500]).range([plot.bottom, plot.top]);

// grid
svg.append("g").selectAll("line")
  .data(yLeftTicks.filter(function(d) { return d > 0 && d < 50; }))
  .enter().append("line")
    .attr("x1", plot.left).attr("x2", plot.right)
    .attr("y1", function(d) { return yL(d); })
    .attr("y2", function(d) { return yL(d); })
    .attr("stroke", "#d9d9d9").attr("stroke-width", 1);

// scatter
var allPoints = [].concat(scatterA, scatterB, scatterC, scatterD, scatterE, scatterH, scatterF, scatterI, scatterG, scatterJ);
svg.append("g").selectAll("circle")
  .data(allPoints)
  .enter().append("circle")
    .attr("cx", function(d) { return x(d[0]); })
    .attr("cy", function(d) { return yL(d[1]); })
    .attr("r", 3.5)
    .attr("fill", "#d9d9d9");

// axes
var fmt = d3.format("d");
var axL = svg.append("g")
    .attr("transform", "translate(" + plot.left + ",0)")
    .call(d3.axisLeft(yL).tickValues(yLeftTicks).tickFormat(fmt).tickSize(4).tickSizeOuter(0).tickPadding(6));
var axR = svg.append("g")
    .attr("transform", "translate(" + plot.right + ",0)")
    .call(d3.axisRight(yR).tickValues(yRightTicks).tickFormat(fmt).tickSize(6).tickSizeOuter(0).tickPadding(12));
var axB = svg.append("g")
    .attr("transform", "translate(0," + plot.bottom + ")")
    .call(d3.axisBottom(x).tickValues(xTicks).tickFormat(fmt).tickSize(5).tickSizeOuter(0).tickPadding(8));

[axL, axR, axB].forEach(function(a) {
  a.attr("font-family", serif).attr("font-size", 24);
  a.selectAll("text").attr("fill", "#231f20");
  a.selectAll("line").attr("stroke", "#231f20").attr("stroke-width", 1.3);
  a.select(".domain").attr("stroke", "#231f20").attr("stroke-width", 1.5);
});
axR.select(".domain").attr("stroke-dasharray", "4,2").attr("stroke-width", 1.2);
axB.selectAll("text").attr("dy", "0.6em");

// top frame line
svg.append("line")
  .attr("x1", plot.left).attr("x2", plot.right)
  .attr("y1", plot.top).attr("y2", plot.top)
  .attr("stroke", "#231f20").attr("stroke-width", 1.5);

// medians
var redLine = d3.line()
  .x(function(d, i) { return x(medDurX[i]); })
  .y(function(d) { return yL(d); })
  .curve(d3.curveMonotoneX);
svg.append("path")
  .datum(medDurY)
  .attr("d", redLine)
  .attr("fill", "none").attr("stroke", "#ff0000").attr("stroke-width", 4);

var blueLine = d3.line()
  .x(function(d, i) { return x(medVolX[i]); })
  .y(function(d) { return yR(d); })
  .curve(d3.curveMonotoneX);
svg.append("path")
  .datum(medVolY)
  .attr("d", blueLine)
  .attr("fill", "none").attr("stroke", "#4472c4").attr("stroke-width", 4.5)
  .attr("stroke-dasharray", "15,18").attr("stroke-linecap", "round");

// axis titles
svg.append("text")
  .attr("transform", "translate(29,280) rotate(-90)")
  .attr("text-anchor", "middle")
  .attr("font-family", serif).style("font-size", "26px")
  .text("Connection duration [s]");

svg.append("text")
  .attr("transform", "translate(893,277) rotate(-90)")
  .attr("text-anchor", "middle")
  .attr("font-family", serif).style("font-size", "26px")
  .style("white-space", "pre")
  .text("DL data volume  [kBytes]");

var xt = svg.append("text")
  .attr("x", 466).attr("y", 557)
  .attr("text-anchor", "middle")
  .attr("font-family", serif).style("font-size", "27px");
xt.append("tspan").text("Throuhgput");
xt.append("tspan").attr("dy", 7).style("font-size", "14px").text(" PDCP, DL");
xt.append("tspan").attr("dy", -7).text("[Mbps]");

// legend
var lg = svg.append("g").attr("transform", "translate(418,413)");
lg.append("rect")
  .attr("width", 368).attr("height", 84)
  .attr("fill", "#fff").attr("stroke", "#231f20").attr("stroke-width", 1.3);
lg.append("line")
  .attr("x1", 12).attr("x2", 54).attr("y1", 26).attr("y2", 26)
  .attr("stroke", "#ff0000").attr("stroke-width", 4).attr("stroke-linecap", "round");
lg.append("line")
  .attr("x1", 12).attr("x2", 54).attr("y1", 55).attr("y2", 55)
  .attr("stroke", "#4472c4").attr("stroke-width", 4.5)
  .attr("stroke-dasharray", "16,18").attr("stroke-linecap", "round");
lg.append("text").attr("x", 65).attr("y", 34)
  .attr("font-family", serif).style("font-size", "25px")
  .text("Median connection duration");
lg.append("text").attr("x", 65).attr("y", 63)
  .attr("font-family", serif).style("font-size", "25px").style("white-space", "pre")
  .text("Median DL data  volume");
</script>
</body>
</html>
